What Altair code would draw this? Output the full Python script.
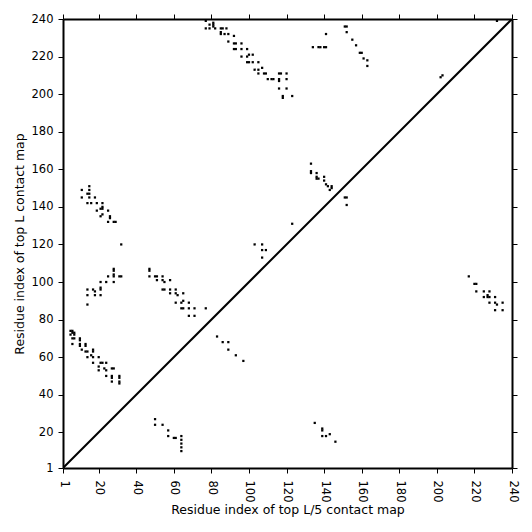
import altair as alt
import pandas as pd

# Contacts above the diagonal (top L contact map)
upper_contacts = [
    (77, 239), (77, 235), (79, 237), (79, 235), (81, 236), (81, 237), (81, 238), (82, 235),
    (85, 235), (86, 235), (88, 235), (85, 233), (85, 232), (87, 232), (89, 232), (92, 231),
    (89, 228), (92, 227), (93, 227), (96, 227), (92, 224), (93, 224), (96, 224), (99, 224),
    (96, 220), (99, 220), (100, 221), (102, 221), (99, 217), (100, 217), (102, 217), (105, 217),
    (103, 213), (105, 213), (107, 214), (105, 211), (108, 211), (109, 211), (110, 208), (112, 208),
    (113, 208), (116, 208), (116, 207), (116, 211), (117, 211), (120, 211), (120, 208), (116, 203),
    (120, 203), (118, 199), (118, 198), (123, 199),
    (134, 225), (137, 225), (138, 225), (140, 225), (141, 225), (141, 232),
    (151, 236), (152, 236), (152, 233), (155, 229), (157, 226), (159, 222), (160, 222), (161, 219),
    (163, 218), (163, 215),
    (202, 209), (203, 210), (232, 239),
    (133, 163), (133, 159), (133, 158), (136, 158), (136, 156), (136, 155), (137, 155), (140, 156),
    (140, 154), (141, 152), (142, 151), (144, 151), (144, 150), (143, 149), (151, 145), (152, 145),
    (152, 141), (123, 131),
    (103, 120), (107, 120), (107, 117), (109, 117), (107, 113),
    (11, 149), (11, 145), (15, 151), (15, 149), (14, 147), (15, 147), (15, 145), (18, 145),
    (14, 142), (16, 142), (19, 142), (19, 138), (22, 142), (22, 140), (21, 139), (22, 139),
    (25, 138), (22, 136), (21, 135), (26, 135), (26, 134), (25, 132), (28, 132), (29, 132), (32, 120),
    (28, 107), (28, 106), (28, 104), (25, 103), (28, 103), (31, 103), (32, 103), (21, 100),
    (24, 100), (28, 100), (21, 97), (21, 96), (14, 96), (17, 96), (18, 95), (14, 93), (18, 93),
    (21, 93), (14, 88),
    (47, 107), (47, 106), (47, 103), (50, 103), (51, 103), (54, 103), (51, 101), (54, 101),
    (55, 100), (58, 101), (54, 96), (55, 96), (58, 96), (61, 96), (58, 94), (61, 94), (62, 93),
    (65, 94), (61, 89), (64, 89), (65, 90), (68, 89), (64, 86), (65, 86), (68, 86), (71, 86),
    (77, 86), (68, 82), (71, 82),
    (5, 74), (6, 74), (6, 73), (7, 73), (5, 72), (7, 72), (7, 70), (6, 70), (10, 70), (10, 69),
    (6, 67), (10, 67), (10, 66), (13, 67), (13, 66), (11, 64), (13, 63), (14, 63), (17, 64),
    (17, 63), (14, 60), (16, 61), (17, 60), (20, 60), (17, 57), (21, 57), (22, 57), (24, 57),
    (20, 55), (20, 53), (23, 54), (24, 53), (27, 54), (28, 54), (24, 50), (27, 50), (27, 49),
    (31, 50), (31, 49), (27, 47), (31, 47), (31, 46),
]

# Contacts below the diagonal (top L/5 contact map)
lower_contacts = [
    (83, 71), (86, 68), (89, 68), (89, 64), (93, 61), (97, 58),
    (50, 27), (50, 24), (54, 24), (57, 21), (57, 18), (60, 17), (61, 17), (64, 18), (64, 16),
    (64, 14), (64, 12), (64, 10),
    (135, 25), (139, 22), (139, 21), (139, 18), (141, 18), (143, 19), (146, 15),
    (217, 103), (220, 99), (221, 99), (221, 95), (225, 95), (228, 95), (225, 92), (227, 93),
    (227, 92), (228, 92), (231, 92), (228, 89), (231, 89), (232, 88), (235, 89), (231, 85),
    (235, 85),
]

diag_x = [1, 240]
diag_y = [1, 240]
tick_values = [1, 20, 40, 60, 80, 100, 120, 140, 160, 180, 200, 220, 240]

df = pd.DataFrame(
    [{"x": x, "y": y} for x, y in upper_contacts + lower_contacts]
)
diag_df = pd.DataFrame({"x": diag_x, "y": diag_y})

font = "DejaVu Sans"
scale = alt.Scale(domain=[1, 240], nice=False, zero=False)

common = dict(
    values=tick_values, grid=False, tickSize=5, tickColor="black", tickWidth=1,
    domainColor="black", domainWidth=2, labelFont=font, labelFontSize=11.5,
    labelColor="black", titleFont=font, titleFontSize=12.5, titleFontWeight="normal",
    titleColor="black",
)

x_bottom = alt.Axis(orient="bottom", labelAngle=90, labelPadding=7, titlePadding=2,
                    title="Residue index of top L/5 contact map", **common)
y_left = alt.Axis(orient="left", labelPadding=5, titlePadding=5,
                  title="Residue index of top L contact map", **common)
x_top = alt.Axis(orient="top", labels=False, title="", **common)
y_right = alt.Axis(orient="right", labels=False, title="", **common)

points = alt.Chart(df).transform_calculate(
    x0="datum.x - 0.6", x1="datum.x + 0.6",
    y0="datum.y - 0.6", y1="datum.y + 0.6",
).mark_rect(color="black", clip=True).encode(
    x=alt.X("x0:Q", scale=scale, axis=x_bottom),
    x2="x1:Q",
    y=alt.Y("y0:Q", scale=scale, axis=y_left),
    y2="y1:Q",
)

diag = alt.Chart(diag_df).mark_line(color="black", strokeWidth=2, clip=True).encode(
    x=alt.X("x:Q", scale=scale, axis=x_top),
    y=alt.Y("y:Q", scale=scale, axis=y_right),
)

chart = alt.layer(points, diag).resolve_axis(
    x="independent", y="independent"
).properties(
    width=449, height=449,
    padding={"left": 55, "top": 11, "right": 12, "bottom": 56},
    autosize=alt.AutoSizeParams(type="none"),
).configure_view(strokeWidth=0)

chart.save("out.html", embed_options={"renderer": "svg", "actions": False})
